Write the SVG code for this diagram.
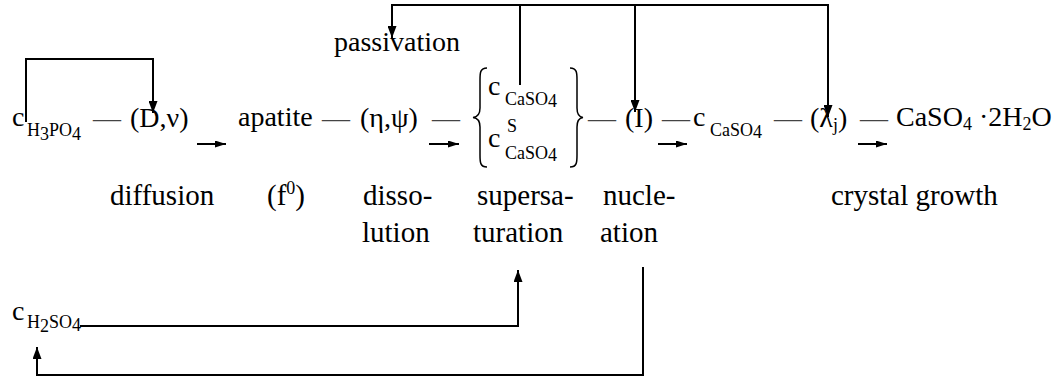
<svg xmlns="http://www.w3.org/2000/svg" width="1058" height="380" viewBox="0 0 1058 380">
<style>
text{font-family:"Liberation Serif","Times New Roman",serif;fill:#000}
.m{font-size:28px}
.l{font-size:29px}
.s{font-size:18px}
.d{font-size:28px;fill:#444}
.c{fill:none;stroke:#000;stroke-width:2}
.b{fill:none;stroke:#000;stroke-width:1.5}
</style>
<defs>
<marker id="ah" viewBox="0 0 12 9" refX="12" refY="4.5" markerWidth="12" markerHeight="9" markerUnits="userSpaceOnUse" orient="auto">
<path d="M0,0 L12,4.5 L0,9 Z" fill="#000"/>
</marker>
<marker id="sh" viewBox="0 0 11 7" refX="11" refY="3.5" markerWidth="11" markerHeight="7" markerUnits="userSpaceOnUse" orient="auto">
<path d="M0,0 L11,3.5 L0,7 Z" fill="#000"/>
</marker>
</defs>

<g id="c-h3po4"><text class="m" x="12" y="126">c</text><text class="s" x="27" y="136">H<tspan dy="4">3</tspan><tspan dy="-4">PO</tspan><tspan dy="4">4</tspan></text></g>
<g id="dash1"><text class="d" x="93" y="127">—</text></g>
<g id="d-nu"><text class="m" x="130" y="127">(D,ν)</text></g>
<g id="apatite"><text class="m" x="238" y="126">apatite</text></g>
<g id="dash2"><text class="d" x="322" y="127">—</text></g>
<g id="eta-psi"><text class="m" x="360" y="127">(η,ψ)</text></g>
<g id="dash3"><text class="d" x="432" y="127">—</text></g>
<g id="supersat">
<path class="b" d="M487,68 C480,68 480,73 480,80 L480,108 C480,114 478,117 473,117.5 C478,118 480,121 480,127 L480,155 C480,162 480,167 487,167"/>
<text class="m" x="488" y="95">c</text><text class="s" x="505" y="105">CaSO<tspan dy="2">4</tspan></text>
<text class="m" x="488" y="147">c</text><text class="s" x="507" y="132">S</text><text class="s" x="505" y="159">CaSO<tspan dy="2">4</tspan></text>
<path class="b" d="M570,68 C577,68 577,73 577,80 L577,108 C577,114 579,117 583,117.5 C579,118 577,121 577,127 L577,155 C577,162 577,167 570,167"/>
</g>
<g id="dash4"><text class="d" x="588" y="127">—</text></g>
<g id="nucleation-i"><text class="m" x="625" y="127">(I)</text></g>
<g id="dash5"><text class="d" x="662" y="127">—</text></g>
<g id="c-caso4"><text class="m" x="693" y="126">c</text><text class="s" x="710" y="136">CaSO<tspan dy="2">4</tspan></text></g>
<g id="dash6"><text class="d" x="774" y="127">—</text></g>
<g id="lambda"><text class="m" x="810" y="127">(λ<tspan class="s" dy="4">j</tspan><tspan dy="-4">)</tspan></text></g>
<g id="dash7"><text class="d" x="860" y="127">—</text></g>
<g id="gypsum"><text class="m" x="896" y="126">CaSO<tspan class="s" dy="4">4</tspan><tspan dy="-4"> ·2H</tspan><tspan class="s" dy="4">2</tspan><tspan dy="-4">O</tspan></text></g>
<g id="passivation"><text class="m" x="334" y="51">passivation</text></g>
<g id="c-h2so4"><text class="m" x="12" y="320">c</text><text class="s" x="27" y="328">H<tspan dy="4">2</tspan><tspan dy="-4">SO</tspan><tspan dy="3">4</tspan></text></g>

<g id="labels">
<text class="l" x="110" y="205">diffusion</text>
<text class="l" x="267" y="205">(f<tspan class="s" dy="-11">0</tspan><tspan dy="11">)</tspan></text>
<text class="l" x="363" y="205">disso-</text>
<text class="l" x="362" y="242">lution</text>
<text class="l" x="477" y="205">supersa-</text>
<text class="l" x="473" y="242">turation</text>
<text class="l" x="603" y="205">nucle-</text>
<text class="l" x="600" y="242">ation</text>
<text class="l" x="831" y="205">crystal growth</text>
</g>

<g id="connectors">
<path class="c" d="M26,122 V59 H153 V113" marker-end="url(#ah)"/>
<path class="c" d="M520,85 V5 H392 V38" marker-end="url(#ah)"/>
<path class="c" d="M520,5 H828 V117" marker-end="url(#ah)"/>
<path class="c" d="M635,5 V112" marker-end="url(#ah)"/>
<path class="c" d="M80,326 H518 V270" marker-end="url(#ah)"/>
<path class="c" d="M643,267 V375 H37 V347" marker-end="url(#ah)"/>
<path class="c" d="M197,144 H226" marker-end="url(#sh)"/>
<path class="c" d="M429,144 H459" marker-end="url(#sh)"/>
<path class="c" d="M658,144 H687" marker-end="url(#sh)"/>
<path class="c" d="M858,144 H887" marker-end="url(#sh)"/>
</g>
</svg>
